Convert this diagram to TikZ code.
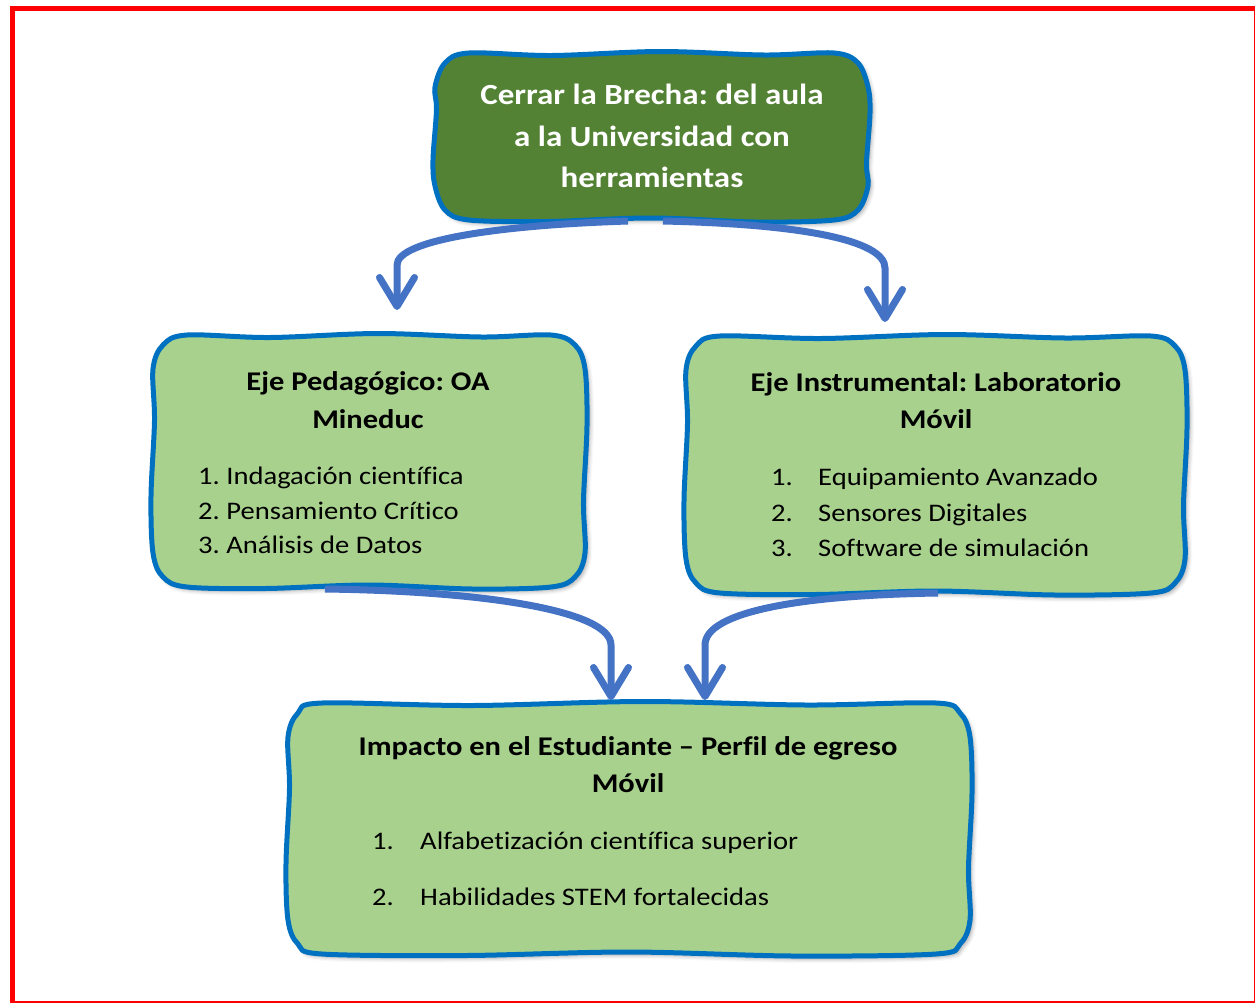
\documentclass[tikz,border=0pt]{standalone}
\usepackage{fontspec}
\setmainfont{Carlito}[FakeStretch=1.13, Ligatures={NoCommon}]
\frenchspacing
\usetikzlibrary{arrows.meta,shadows.blur,calc}
\definecolor{dkgreen}{HTML}{548235}
\definecolor{ltgreen}{HTML}{A9D18E}
\definecolor{bblue}{HTML}{0070C0}
\definecolor{ablue}{HTML}{4472C4}
\definecolor{fred}{HTML}{FF0000}
% #1 name, #2 x1, #3 y1, #4 x2, #5 y2, #6 fill
\newcommand\wavybox[6]{%
  \node[inner sep=0pt, outer sep=0pt, minimum width={#4-#2}, minimum height={#5-#3}] (#1) at ({(#2+#4)/2},{(#3+#5)/2}) {};
  \draw[wb, fill=#6] plot[smooth cycle, tension=0.55] coordinates {
    ({#2+10},{#3+10}) ({#2+34},{#3}) ({#2+0.27*(#4-#2)},{#3+2.5}) ({#2+0.52*(#4-#2)},{#3-1.5}) ({#2+0.76*(#4-#2)},{#3+2}) ({#4-34},{#3})
    ({#4-10},{#3+10}) ({#4},{#3+34}) ({#4+2},{#3+0.36*(#5-#3)}) ({#4-1.5},{#3+0.66*(#5-#3)}) ({#4},{#5-34})
    ({#4-10},{#5-10}) ({#4-34},{#5}) ({#2+0.74*(#4-#2)},{#5+2}) ({#2+0.5*(#4-#2)},{#5-2}) ({#2+0.26*(#4-#2)},{#5+1.5}) ({#2+34},{#5})
    ({#2+10},{#5-10}) ({#2},{#5-34}) ({#2-2},{#3+0.64*(#5-#3)}) ({#2+1.5},{#3+0.34*(#5-#3)}) ({#2},{#3+34})
  };}
\begin{document}
\begin{tikzpicture}[x=1pt,y=-1pt,
  wb/.style={draw=bblue, line width=5pt, line join=round,
    blur shadow={shadow xshift=3pt, shadow yshift=-3pt, shadow blur radius=4pt, shadow opacity=35}},
  conn/.style={draw=ablue, line width=7pt, line cap=butt,
    -{Straight Barb[length=29pt, width=35pt, round]}},
  ttl/.style={font=\fontsize{29.2}{34}\selectfont\bfseries, text=white, anchor=base, inner sep=0pt},
  hdr/.style={font=\fontsize{27}{32}\selectfont\bfseries, text=black, anchor=base, inner sep=0pt},
  itm/.style={font=\fontsize{25.3}{30}\selectfont, text=black, anchor=base west, inner sep=0pt}]
\useasboundingbox (0,0) rectangle (1255,1002);
\draw[fred, line width=5pt] (12.5,8.5) rectangle (1256.5,1003);

% boxes
\wavybox{top}{435}{53}{868}{220}{dkgreen}
\wavybox{ped}{153}{335}{585}{587}{ltgreen}
\wavybox{ins}{686}{336}{1185}{593}{ltgreen}
\wavybox{imp}{288}{703}{970}{954}{ltgreen}

% texts
\node[ttl] (t1) at (652,104) {Cerrar la Brecha: del aula};
\node[ttl] (t2) at (652,146) {a la Universidad con};
\node[ttl] (t3) at (652,187) {herramientas};

\node[hdr] (p1) at (368,390) {Eje Pedagógico: OA};
\node[hdr] (p2) at (368,428) {Mineduc};
\node[itm] (pi1) at (198,484) {1. Indagación científica};
\node[itm] (pi2) at (198,519) {2. Pensamiento Crítico};
\node[itm] (pi3) at (198,553) {3. Análisis de Datos};

\node[hdr] (n1) at (936,391) {Eje Instrumental: Laboratorio};
\node[hdr] (n2) at (936,428) {Móvil};
\node[itm] (nn1) at (771,485) {1.};
\node[itm] (nn2) at (771,521) {2.};
\node[itm] (nn3) at (771,556) {3.};
\node[itm] (ni1) at (818,485) {Equipamiento Avanzado};
\node[itm] (ni2) at (818,521) {Sensores Digitales};
\node[itm] (ni3) at (818,556) {Software de simulación};

\node[hdr] (m1) at (628,755) {Impacto en el Estudiante – Perfil de egreso};
\node[hdr] (m2) at (628,792) {Móvil};
\node[itm] (mn1) at (372,849) {1.};
\node[itm] (mn2) at (372,905) {2.};
\node[itm] (mi1) at (420,849) {Alfabetización científica superior};
\node[itm] (mi2) at (420,905) {Habilidades STEM fortalecidas};

% connectors
\coordinate (a1s) at ($(top.south)+(-23.5,1)$);
\coordinate (a1e) at ($(ped.north)+(28,-25)$);
\coordinate (a2s) at ($(top.south)+(11.5,1)$);
\coordinate (a2e) at ($(ins.north)+(-50.5,-14)$);
\coordinate (a3s) at ($(ped.south)+(-44,2)$);
\coordinate (a3e) at ($(imp.north)+(-18,-3)$);
\coordinate (a4s) at ($(ins.south)+(2.5,0)$);
\coordinate (a4e) at ($(imp.north)+(76,-3)$);

\draw[conn] (a1s) .. controls ($(a1s)+(-128,4)$) and ($(a1e)+(0,-70)$) .. ($(a1e)+(0,-45)$) -- (a1e);
\draw[conn] (a2s) .. controls ($(a2s)+(137,3)$) and ($(a2e)+(0,-82)$) .. ($(a2e)+(0,-54)$) -- (a2e);
\draw[conn] (a3s) .. controls ($(a3s)+(155,2)$) and ($(a3e)+(0,-90)$) .. ($(a3e)+(0,-55)$) -- (a3e);
\draw[conn] (a4s) .. controls ($(a4s)+(-138,2)$) and ($(a4e)+(0,-88)$) .. ($(a4e)+(0,-55)$) -- (a4e);
\end{tikzpicture}
\end{document}
